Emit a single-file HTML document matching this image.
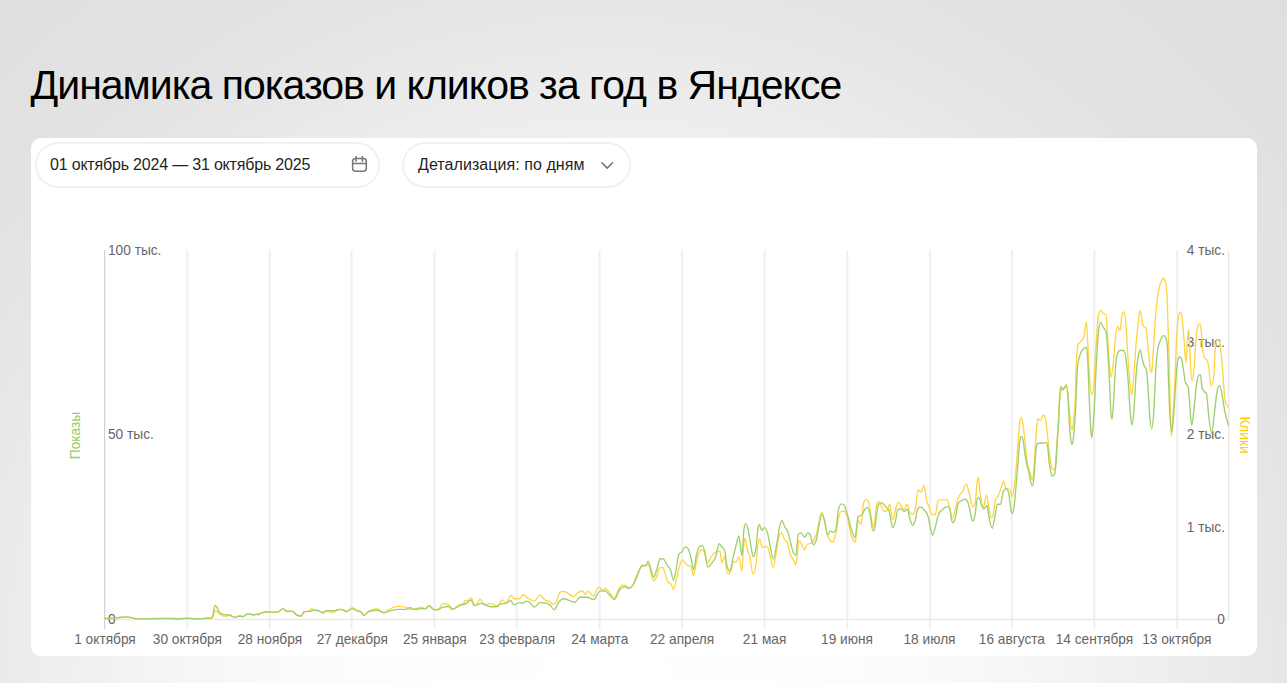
<!DOCTYPE html>
<html lang="ru">
<head>
<meta charset="utf-8">
<title>Динамика показов и кликов за год в Яндексе</title>
<style>
*{box-sizing:border-box;margin:0;padding:0}
html,body{width:1287px;height:683px;overflow:hidden}
body{font-family:"Liberation Sans",Arial,sans-serif;background:#e2e2e2;position:relative;
background:radial-gradient(circle 1000px at 605px 683px,#ffffff 0%,#fdfdfd 22%,#fcfcfc 27.5%,#f7f7f7 40.5%,#f1f1f1 50.5%,#ebebeb 60.5%,#e6e6e6 68.2%,#e3e3e3 74%,#e0e0e0 88.4%,#dedede 100%);}
h1{position:absolute;left:30.5px;top:61px;font-weight:400;font-size:41px;line-height:48px;letter-spacing:-1.0px;color:#000;white-space:nowrap}
.card{position:absolute;left:31px;top:138px;width:1226px;height:518px;background:#fff;border-radius:10px}
.pill{position:absolute;top:4px;height:46px;border:2px solid #f1f1f1;border-radius:23px;background:#fff;font-size:16px;color:#1f1f24;line-height:41px;white-space:nowrap;letter-spacing:-0.19px}
.pill.date{left:4px;width:345px;padding-left:13px}
.pill.det{left:371px;width:229px;padding-left:14px;letter-spacing:0.06px}
svg.chart{position:absolute;left:0;top:0}
svg.chart text{font-family:"Liberation Sans",Arial,sans-serif;font-size:13.7px;fill:#666}
</style>
</head>
<body>
<h1>Динамика показов и кликов за год в Яндексе</h1>
<div class="card">
  <div class="pill date">01 октябрь 2024 — 31 октябрь 2025
  </div>
  <div class="pill det">Детализация: по дням
  </div>
</div>
<svg class="chart" width="1287" height="683" viewBox="0 0 1287 683">
<path d="M187.4 250V629.5M269.7 250V629.5M351.6 250V629.5M434.5 250V629.5M516.7 250V629.5M599.6 250V629.5M682.2 250V629.5M764.5 250V629.5M847.4 250V629.5M930.1 250V629.5M1011.8 250V629.5M1094.4 250V629.5M1177.2 250V629.5" stroke="#efefef" stroke-width="1.9" fill="none"/>
<path d="M1228.7 250V620.3" stroke="#e7e7e7" stroke-width="1.3" fill="none"/>
<path d="M104 619.6H1229.3" stroke="#e9e9e9" stroke-width="1.5" fill="none"/>
<path d="M104.65 250V629.5" stroke="#d4d4d4" stroke-width="1.3" fill="none"/>
<g fill="none" stroke="#767676" stroke-width="1.5" stroke-linecap="round" stroke-linejoin="round"><rect x="352.6" y="158.6" width="13.7" height="12.6" rx="3"/><path d="M352.6 163.4h13.7M356.1 156.6v4.6M362.4 156.6v4.6"/><path d="M601.9 162.8L607.2 168.1L612.5 162.8" stroke-width="1.6"/></g>
<text transform="translate(108 254.8) scale(1 1.06)">100 тыс.</text>
<text transform="translate(108 439.3) scale(1 1.06)">50 тыс.</text>
<text transform="translate(108 623.8) scale(1 1.06)">0</text>
<text transform="translate(1225 254.8) scale(1 1.06)" text-anchor="end">4 тыс.</text>
<text transform="translate(1225 347.0) scale(1 1.06)" text-anchor="end">3 тыс.</text>
<text transform="translate(1225 439.3) scale(1 1.06)" text-anchor="end">2 тыс.</text>
<text transform="translate(1225 531.6) scale(1 1.06)" text-anchor="end">1 тыс.</text>
<text transform="translate(1225 623.8) scale(1 1.06)" text-anchor="end">0</text>
<text transform="translate(105.0 644) scale(1 1.06)" text-anchor="middle">1 октября</text>
<text transform="translate(187.4 644) scale(1 1.06)" text-anchor="middle">30 октября</text>
<text transform="translate(269.9 644) scale(1 1.06)" text-anchor="middle">28 ноября</text>
<text transform="translate(352.3 644) scale(1 1.06)" text-anchor="middle">27 декабря</text>
<text transform="translate(434.8 644) scale(1 1.06)" text-anchor="middle">25 января</text>
<text transform="translate(517.2 644) scale(1 1.06)" text-anchor="middle">23 февраля</text>
<text transform="translate(599.7 644) scale(1 1.06)" text-anchor="middle">24 марта</text>
<text transform="translate(682.1 644) scale(1 1.06)" text-anchor="middle">22 апреля</text>
<text transform="translate(764.6 644) scale(1 1.06)" text-anchor="middle">21 мая</text>
<text transform="translate(847.0 644) scale(1 1.06)" text-anchor="middle">19 июня</text>
<text transform="translate(929.5 644) scale(1 1.06)" text-anchor="middle">18 июля</text>
<text transform="translate(1011.9 644) scale(1 1.06)" text-anchor="middle">16 августа</text>
<text transform="translate(1094.4 644) scale(1 1.06)" text-anchor="middle">14 сентября</text>
<text transform="translate(1176.8 644) scale(1 1.06)" text-anchor="middle">13 октября</text>
<text transform="translate(79.6 435.5) rotate(-90) scale(1 1.06)" text-anchor="middle" style="fill:#97cc64">Показы</text>
<text transform="translate(1240.2 435) rotate(90) scale(1 1.06)" text-anchor="middle" style="fill:#ffcc00">Клики</text>
<path d="M104.4 618.6C107.1 618.6 109.7 618.6 112.4 618.5C115.3 618.4 118.2 617.7 121.1 617.5C123.0 617.4 124.8 617.3 126.7 617.3C128.6 617.3 130.4 617.6 132.3 617.9C133.6 618.1 134.8 618.8 136.1 618.8C140.7 618.9 145.2 618.9 149.8 618.9C156.0 618.9 162.2 618.6 168.4 618.6C172.1 618.6 175.9 618.9 179.6 618.9C182.1 618.9 184.5 618.5 187.0 618.5C189.5 618.5 192.0 618.9 194.5 618.9C197.4 618.9 200.3 618.9 203.2 618.9C204.5 618.9 205.7 618.3 207.0 618.3C208.2 618.3 209.5 618.6 210.7 618.6C211.5 618.6 212.2 618.1 213.0 617.0C213.4 616.4 213.9 613.6 214.3 612.5C214.8 611.3 215.2 610.5 215.7 610.5C216.3 610.5 216.9 611.5 217.5 612.0C218.1 612.6 218.8 613.4 219.4 613.9C220.3 614.6 221.1 615.1 222.0 615.5C222.8 615.9 223.6 616.3 224.4 616.3C225.3 616.3 226.1 616.0 227.0 615.8C228.0 615.6 229.0 615.3 230.0 615.3C230.6 615.3 231.2 616.0 231.8 616.3C232.9 616.8 233.9 617.5 235.0 617.5C236.0 617.5 237.1 616.4 238.1 616.0C238.7 615.7 239.4 615.3 240.0 615.3C241.0 615.3 242.0 616.9 243.0 616.9C244.0 616.9 245.1 615.1 246.1 614.6C247.2 614.0 248.2 613.6 249.3 613.6C250.5 613.6 251.8 615.0 253.0 615.0C254.2 615.0 255.5 614.1 256.7 614.1C257.1 614.1 257.6 615.2 258.0 615.2C258.7 615.2 259.3 614.0 260.0 613.6C261.0 613.0 262.0 612.7 263.0 612.4C264.1 612.0 265.1 611.5 266.2 611.5C267.8 611.5 269.4 612.4 271.0 612.4C273.1 612.4 275.3 612.2 277.4 611.9C279.3 611.6 281.1 608.9 283.0 608.9C284.2 608.9 285.5 611.5 286.7 611.5C288.6 611.5 290.4 611.2 292.3 611.2C294.0 611.2 295.6 614.4 297.3 615.2C298.5 615.8 299.8 616.1 301.0 616.1C302.0 616.1 303.1 612.3 304.1 611.9C306.0 611.1 307.8 611.5 309.7 610.7C310.3 610.4 311.0 608.4 311.6 608.4C312.4 608.4 313.2 610.2 314.0 610.3C315.5 610.4 316.9 610.4 318.4 610.5C319.9 610.6 321.3 613.4 322.8 613.4C324.2 613.4 325.7 610.7 327.1 610.7C328.8 610.7 330.4 612.6 332.1 612.6C333.4 612.6 334.7 611.1 336.0 610.5C337.6 609.8 339.2 609.1 340.8 609.1C342.7 609.1 344.5 612.1 346.4 612.1C348.3 612.1 350.1 607.6 352.0 607.6C353.0 607.6 354.0 609.0 355.0 609.5C356.1 610.1 357.1 610.5 358.2 610.8C359.0 611.1 359.9 611.0 360.7 611.4C361.7 611.9 362.8 615.2 363.8 615.2C365.5 615.2 367.1 612.2 368.8 611.3C369.9 610.7 370.9 610.4 372.0 610.0C373.6 609.4 375.3 608.6 376.9 608.6C377.9 608.6 379.0 609.9 380.0 610.5C381.5 611.4 382.9 613.0 384.4 613.0C385.6 613.0 386.8 611.3 388.0 610.5C389.3 609.6 390.5 608.6 391.8 608.0C393.9 607.0 395.9 606.4 398.0 606.4C400.5 606.4 403.0 606.6 405.5 607.1C407.2 607.4 408.8 609.6 410.5 609.6C412.0 609.6 413.5 609.5 415.0 609.2C417.1 608.8 419.1 607.1 421.2 607.1C422.6 607.1 424.1 608.6 425.5 608.6C426.6 608.6 427.6 605.5 428.7 605.5C430.8 605.5 432.8 609.6 434.9 609.6C436.1 609.6 437.4 609.4 438.6 608.9C440.1 608.3 441.5 603.4 443.0 603.4C444.9 603.4 446.7 603.9 448.6 604.9C449.6 605.5 450.7 609.9 451.7 609.9C453.1 609.9 454.6 608.0 456.0 607.1C457.3 606.3 458.5 605.2 459.8 604.6C461.0 604.0 462.3 604.3 463.5 603.6C464.1 603.3 464.7 600.5 465.3 600.5C466.4 600.5 467.4 600.5 468.5 600.5C469.4 600.5 470.3 597.8 471.2 597.8C472.4 597.8 473.5 605.5 474.7 605.5C475.7 605.5 476.8 604.5 477.8 603.0C478.5 602.0 479.2 598.9 479.9 598.9C480.9 598.9 481.8 602.0 482.8 603.0C483.8 604.1 484.9 604.9 485.9 604.9C486.7 604.9 487.6 603.6 488.4 603.6C490.5 603.6 492.5 604.0 494.6 604.9C495.6 605.3 496.7 606.7 497.7 606.7C499.1 606.7 500.6 599.9 502.0 599.9C503.3 599.9 504.5 603.0 505.8 603.0C507.5 603.0 509.3 595.5 511.0 595.5C512.2 595.5 513.3 598.7 514.5 598.7C516.2 598.7 517.8 598.7 519.5 598.7C520.7 598.7 522.0 594.7 523.2 594.7C524.9 594.7 526.5 597.4 528.2 598.4C530.3 599.6 532.3 601.1 534.4 601.1C536.3 601.1 538.1 594.9 540.0 594.9C541.9 594.9 543.7 599.9 545.6 600.5C546.8 600.9 548.1 600.7 549.3 601.1C550.5 601.5 551.8 604.3 553.0 604.3C554.0 604.3 555.1 603.7 556.1 602.4C557.4 600.8 558.6 593.2 559.9 592.4C560.9 591.7 562.0 591.4 563.0 591.4C564.0 591.4 565.0 591.8 566.0 592.2C567.3 592.8 568.7 593.9 570.0 594.7C571.2 595.4 572.5 596.6 573.7 596.6C574.9 596.6 576.2 593.8 577.4 592.9C579.1 591.7 580.7 591.0 582.4 591.0C583.4 591.0 584.5 594.1 585.5 594.1C586.3 594.1 587.2 591.2 588.0 591.2C589.9 591.2 591.7 596.0 593.6 596.0C595.1 596.0 596.5 587.3 598.0 587.3C598.8 587.3 599.6 587.5 600.4 587.9C601.0 588.2 601.7 590.4 602.3 590.4C603.3 590.4 604.4 588.5 605.4 588.5C606.9 588.5 608.3 591.3 609.8 592.9C611.2 594.5 612.7 598.2 614.1 598.2C616.0 598.2 617.8 589.6 619.7 587.3C620.7 586.0 621.8 584.8 622.8 584.8C623.8 584.8 624.9 585.3 625.9 585.8C627.0 586.3 628.0 587.9 629.1 587.9C630.3 587.9 631.6 587.1 632.8 585.4C634.0 583.7 635.3 578.9 636.5 576.1C638.2 572.4 639.8 567.8 641.5 566.7C642.7 565.9 644.0 565.8 645.2 565.5C646.2 565.2 647.3 564.9 648.3 564.9C649.1 564.9 650.0 569.8 650.8 572.3C651.7 575.1 652.7 580.8 653.6 580.8C654.5 580.8 655.5 579.2 656.4 577.3C657.4 575.2 658.5 568.4 659.5 568.0C660.5 567.6 661.6 567.4 662.6 567.4C663.4 567.4 664.3 571.4 665.1 573.6C666.1 576.3 667.2 581.3 668.2 582.3C669.0 583.1 669.9 582.7 670.7 583.5C671.6 584.4 672.6 589.1 673.5 589.1C674.4 589.1 675.4 583.3 676.3 579.8C677.3 575.9 678.4 570.1 679.4 566.7C680.3 563.6 681.3 559.9 682.2 559.9C682.9 559.9 683.7 561.1 684.4 561.8C685.4 562.8 686.5 565.1 687.5 565.5C688.5 565.9 689.6 565.7 690.6 566.1C691.6 566.5 692.5 575.4 693.5 575.4C694.2 575.4 694.9 569.1 695.6 566.1C696.6 561.7 697.7 556.5 698.7 553.7C699.7 550.9 700.8 549.3 701.8 549.3C702.6 549.3 703.5 550.6 704.3 552.4C705.3 554.7 706.4 563.0 707.4 563.0C708.4 563.0 709.5 559.5 710.5 558.0C711.8 556.1 713.0 554.2 714.3 553.1C715.7 551.8 717.2 551.2 718.6 551.2C719.1 551.2 719.5 551.3 720.0 551.6C720.6 552.0 721.3 563.2 721.9 563.2C722.7 563.2 723.6 556.6 724.4 556.6C725.2 556.6 726.0 568.3 726.8 570.9C727.4 573.0 728.1 574.0 728.7 574.0C729.5 574.0 730.4 571.7 731.2 569.6C732.0 567.5 732.9 561.5 733.7 561.5C734.5 561.5 735.4 562.2 736.2 562.2C737.1 562.2 738.0 556.6 738.9 556.6C739.9 556.6 740.8 571.1 741.8 571.1C742.4 571.1 743.0 553.0 743.6 547.2C744.0 543.0 744.5 537.9 744.9 537.9C745.7 537.9 746.6 546.5 747.4 549.7C748.2 552.9 749.1 553.8 749.9 557.2C750.9 561.4 752.0 574.0 753.0 574.0C754.0 574.0 755.1 570.5 756.1 563.4C756.7 559.3 757.3 548.9 757.9 544.8C758.5 540.9 759.0 538.8 759.6 538.8C760.5 538.8 761.4 547.2 762.3 547.2C764.0 547.2 765.6 546.6 767.3 546.6C768.1 546.6 769.0 551.8 769.8 554.7C770.9 558.6 772.1 567.4 773.2 567.4C774.1 567.4 775.1 559.6 776.0 554.7C777.0 549.3 778.1 538.6 779.1 536.0C779.9 533.9 780.8 532.9 781.6 532.9C782.6 532.9 783.7 538.2 784.7 539.8C785.5 541.1 786.4 540.6 787.2 542.3C788.2 544.4 789.3 551.8 790.3 554.7C791.3 557.6 792.4 557.8 793.4 559.7C794.2 561.2 795.1 564.7 795.9 564.7C796.9 564.7 798.0 540.4 799.0 540.4C799.8 540.4 800.7 542.7 801.5 544.1C802.5 545.8 803.6 549.7 804.6 549.7C805.4 549.7 806.3 545.1 807.1 544.5C808.5 543.4 810.0 544.0 811.4 542.9C813.1 541.7 814.7 540.0 816.4 534.2C817.4 530.6 818.5 524.1 819.5 519.9C820.2 516.9 821.0 511.8 821.7 511.8C822.5 511.8 823.4 516.5 824.2 519.9C825.2 523.9 826.2 531.4 827.2 534.8C828.2 538.0 829.1 538.7 830.1 540.0C831.0 541.2 832.0 542.3 832.9 542.3C833.8 542.3 834.8 537.5 835.7 533.6C836.7 529.3 837.8 520.5 838.8 516.8C839.6 513.8 840.5 511.5 841.3 511.4C842.3 511.3 843.4 511.2 844.4 511.2C845.2 511.2 846.1 513.8 846.9 516.1C848.5 520.6 850.2 533.0 851.8 537.3C852.9 540.3 854.1 542.3 855.2 542.3C856.2 542.3 857.1 520.5 858.1 520.5C859.1 520.5 860.2 524.2 861.2 524.2C862.0 524.2 862.9 504.7 863.7 502.5C864.5 500.4 865.3 499.4 866.1 499.4C866.9 499.4 867.8 500.2 868.6 501.8C869.4 503.4 870.3 512.3 871.1 516.8C871.8 520.6 872.5 527.1 873.2 527.1C873.8 527.1 874.4 522.3 875.0 518.5C875.6 514.5 876.3 504.8 876.9 503.5C877.5 502.3 878.1 501.7 878.7 501.7C879.5 501.7 880.4 504.6 881.2 506.0C882.2 507.8 883.3 511.2 884.3 511.2C885.3 511.2 886.4 510.9 887.4 510.4C888.1 510.0 888.9 503.8 889.6 503.8C890.1 503.8 890.7 509.7 891.2 512.2C891.8 515.0 892.4 519.7 893.0 519.7C893.8 519.7 894.7 512.6 895.5 509.8C896.5 506.5 897.4 502.0 898.4 502.0C899.3 502.0 900.2 504.8 901.1 506.0C902.1 507.4 903.2 509.8 904.2 509.8C905.2 509.8 906.1 503.8 907.1 503.8C908.0 503.8 908.9 512.2 909.8 512.9C910.8 513.7 911.9 514.1 912.9 514.1C913.7 514.1 914.6 512.2 915.4 508.5C916.2 504.8 917.1 489.9 917.9 489.9C918.9 489.9 920.0 492.1 921.0 492.1C922.0 492.1 922.9 485.5 923.9 485.5C924.8 485.5 925.7 496.1 926.6 499.8C927.6 504.1 928.7 505.8 929.7 508.5C930.5 510.7 931.4 514.7 932.2 514.7C933.2 514.7 934.3 514.7 935.3 514.7C936.3 514.7 937.2 500.7 938.2 500.4C939.5 500.0 940.9 499.9 942.2 499.8C943.8 499.7 945.5 499.6 947.1 499.6C947.9 499.6 948.8 505.0 949.6 507.9C950.5 511.2 951.5 518.5 952.4 518.5C953.3 518.5 954.3 513.0 955.2 509.8C956.2 506.2 957.3 500.9 958.3 497.9C959.8 493.7 961.2 493.7 962.7 491.1C963.9 488.9 965.2 483.9 966.4 483.9C967.4 483.9 968.5 491.0 969.5 494.8C970.5 498.6 971.6 506.6 972.6 506.6C973.4 506.6 974.3 505.6 975.1 503.5C975.7 501.9 976.4 488.2 977.0 483.6C977.4 480.7 977.8 477.4 978.2 477.4C978.8 477.4 979.5 488.1 980.1 492.3C981.2 499.9 982.4 507.9 983.5 507.9C984.1 507.9 984.8 500.1 985.4 497.9C985.8 496.4 986.3 495.1 986.7 495.1C987.4 495.1 988.1 504.9 988.8 508.5C989.6 512.8 990.5 517.8 991.3 517.8C991.9 517.8 992.6 516.8 993.2 514.7C993.9 512.3 994.7 501.8 995.4 499.8C996.3 497.3 997.2 497.9 998.1 496.1C999.1 494.0 1000.2 490.3 1001.2 487.4C1002.0 485.2 1002.7 480.9 1003.5 480.9C1004.4 480.9 1005.3 488.3 1006.2 488.6C1007.4 489.0 1008.7 488.8 1009.9 489.2C1010.7 489.4 1011.4 497.0 1012.2 497.0C1012.9 497.0 1013.6 491.0 1014.3 485.7C1015.0 480.6 1015.6 473.9 1016.3 466.2C1016.9 459.6 1017.4 451.1 1018.0 443.9C1018.6 436.3 1019.2 425.0 1019.8 421.7C1020.3 419.1 1020.7 417.8 1021.2 417.8C1021.7 417.8 1022.1 419.4 1022.6 421.7C1023.3 425.1 1024.0 432.4 1024.7 438.4C1025.4 444.4 1026.1 452.6 1026.8 457.8C1027.5 463.0 1028.2 466.7 1028.9 469.7C1029.6 472.6 1030.2 473.9 1030.9 475.9C1031.4 477.3 1031.8 480.1 1032.3 480.1C1032.8 480.1 1033.2 476.7 1033.7 471.8C1034.2 466.9 1034.6 458.1 1035.1 450.9C1035.6 443.7 1036.0 434.0 1036.5 428.6C1037.0 423.2 1037.4 418.6 1037.9 418.6C1038.7 418.6 1039.5 420.6 1040.3 420.6C1041.4 420.6 1042.4 415.0 1043.5 415.0C1044.2 415.0 1044.8 416.3 1045.5 418.9C1046.0 420.7 1046.4 426.0 1046.9 430.0C1047.6 435.9 1048.3 443.7 1049.0 449.5C1049.7 455.3 1050.4 461.5 1051.1 464.8C1051.8 468.1 1052.5 469.7 1053.2 469.7C1053.8 469.7 1054.4 469.2 1055.0 468.3C1055.5 467.6 1055.9 457.3 1056.4 450.9C1056.9 444.5 1057.3 437.3 1057.8 430.0C1058.4 421.1 1058.9 408.7 1059.5 402.0C1060.1 395.3 1060.6 391.0 1061.2 390.0C1062.0 388.7 1062.7 388.6 1063.5 388.0C1064.5 387.2 1065.5 386.2 1066.5 386.2C1067.1 386.2 1067.6 393.0 1068.2 398.0C1068.8 403.0 1069.3 411.1 1069.9 416.1C1070.6 422.6 1071.4 430.4 1072.1 430.4C1072.5 430.4 1073.0 425.6 1073.4 421.7C1073.9 416.9 1074.5 414.0 1075.0 403.0C1075.5 393.3 1075.9 372.4 1076.4 363.0C1077.0 350.3 1077.7 345.1 1078.3 343.9C1079.5 341.5 1080.8 342.6 1082.0 340.3C1082.7 338.9 1083.5 338.2 1084.2 335.1C1084.9 332.1 1085.7 322.0 1086.4 322.0C1086.9 322.0 1087.3 335.7 1087.8 343.9C1088.3 352.7 1088.8 365.5 1089.3 373.2C1090.1 386.1 1091.0 395.0 1091.8 395.0C1092.5 395.0 1093.1 391.3 1093.8 384.0C1094.5 376.3 1095.2 358.9 1095.9 348.3C1096.7 335.7 1097.6 320.3 1098.4 316.1C1099.1 312.4 1099.9 310.5 1100.6 310.5C1101.5 310.5 1102.3 312.8 1103.2 313.5C1104.2 314.2 1105.1 313.9 1106.1 314.6C1106.6 315.0 1107.1 329.3 1107.6 336.6C1108.3 347.3 1109.1 362.2 1109.8 368.8C1110.4 373.9 1110.9 376.9 1111.5 376.9C1112.1 376.9 1112.8 367.6 1113.4 361.5C1114.1 354.5 1114.9 342.6 1115.6 336.6C1116.2 331.4 1116.9 326.1 1117.5 326.1C1118.3 326.1 1119.2 330.7 1120.0 330.7C1120.6 330.7 1121.2 319.3 1121.8 316.5C1122.4 313.5 1123.1 312.0 1123.7 312.0C1124.3 312.0 1125.0 314.8 1125.6 320.5C1126.2 326.2 1126.9 341.3 1127.5 350.5C1128.4 363.6 1129.3 377.2 1130.2 385.0C1130.7 389.6 1131.3 395.1 1131.8 395.1C1132.3 395.1 1132.9 386.7 1133.4 381.0C1134.3 371.4 1135.2 354.6 1136.1 344.0C1136.9 334.6 1137.7 326.0 1138.5 320.0C1139.1 315.8 1139.6 310.3 1140.2 310.3C1140.7 310.3 1141.2 315.1 1141.7 317.7C1142.2 320.3 1142.7 325.2 1143.2 326.0C1144.2 327.5 1145.1 326.8 1146.1 328.3C1146.7 329.2 1147.2 338.7 1147.8 344.1C1148.6 351.8 1149.4 363.3 1150.2 368.0C1150.7 370.9 1151.2 372.9 1151.7 372.9C1152.2 372.9 1152.7 360.1 1153.2 353.0C1154.0 342.1 1154.7 326.7 1155.5 317.0C1156.5 304.8 1157.4 297.3 1158.4 291.4C1159.3 286.1 1160.1 284.1 1161.0 281.9C1161.8 279.8 1162.7 278.2 1163.5 278.2C1164.2 278.2 1165.0 279.7 1165.7 282.6C1166.2 284.5 1166.6 287.5 1167.1 297.3C1167.4 303.6 1167.7 317.5 1168.0 326.6C1168.3 335.7 1168.6 341.5 1168.9 352.0C1169.2 361.4 1169.4 375.0 1169.7 385.0C1170.3 406.3 1170.8 436.1 1171.4 436.1C1171.9 436.1 1172.3 425.5 1172.8 418.6C1173.4 409.3 1174.1 398.6 1174.7 385.0C1175.3 372.8 1175.8 353.5 1176.4 342.5C1177.0 330.3 1177.7 321.5 1178.3 317.8C1179.0 313.9 1179.6 311.9 1180.3 311.9C1180.9 311.9 1181.6 314.1 1182.2 318.5C1182.8 322.9 1183.5 333.6 1184.1 341.2C1184.7 348.4 1185.3 362.8 1185.9 362.8C1186.4 362.8 1186.8 347.0 1187.3 341.2C1187.7 336.3 1188.1 329.5 1188.5 329.5C1188.8 329.5 1189.2 335.3 1189.5 341.2C1189.9 347.7 1190.2 361.5 1190.6 368.0C1191.0 375.6 1191.5 380.5 1191.9 380.5C1192.5 380.5 1193.2 376.8 1193.8 371.0C1194.6 364.0 1195.3 346.0 1196.1 338.3C1196.7 331.9 1197.4 327.3 1198.0 325.8C1198.6 324.3 1199.2 323.6 1199.8 323.6C1200.3 323.6 1200.8 326.3 1201.3 331.0C1201.8 335.4 1202.2 346.1 1202.7 350.0C1203.3 355.3 1204.0 356.9 1204.6 358.0C1205.4 359.5 1206.3 358.7 1207.1 360.2C1207.7 361.3 1208.3 363.2 1208.9 368.0C1209.3 371.5 1209.8 379.8 1210.2 382.0C1210.7 384.4 1211.1 385.6 1211.6 385.6C1212.3 385.6 1213.1 382.4 1213.8 376.0C1214.3 371.9 1214.7 355.7 1215.2 350.0C1215.8 343.1 1216.3 339.7 1216.9 339.7C1217.5 339.7 1218.2 339.7 1218.8 339.7C1219.4 339.7 1220.1 345.1 1220.7 350.0C1221.3 354.7 1221.9 360.3 1222.5 368.0C1222.9 372.7 1223.2 379.3 1223.6 384.0C1224.2 392.1 1224.9 400.6 1225.5 402.5C1226.5 405.6 1227.5 406.3 1228.5 407.1" stroke="#ffd545" stroke-width="1.35" fill="none" stroke-linejoin="round" stroke-linecap="round"/>
<path d="M104.4 618.3C107.1 618.3 109.7 618.2 112.4 618.1C115.3 618.0 118.2 617.3 121.1 617.1C123.0 617.0 124.8 616.8 126.7 616.8C128.6 616.8 130.4 617.2 132.3 617.6C133.6 617.9 134.8 618.6 136.1 618.6C140.7 618.6 145.2 618.6 149.8 618.6C156.0 618.6 162.2 618.3 168.4 618.3C172.1 618.3 175.9 618.7 179.6 618.7C182.1 618.7 184.5 618.2 187.0 618.2C189.5 618.2 192.0 618.7 194.5 618.7C197.4 618.7 200.3 618.7 203.2 618.6C204.5 618.6 205.7 617.8 207.0 617.8C208.2 617.8 209.5 618.1 210.7 618.1C211.3 618.1 212.0 617.6 212.6 616.7C213.0 616.1 213.4 611.7 213.8 609.9C214.3 607.5 214.9 605.5 215.4 605.5C215.9 605.5 216.4 606.6 216.9 607.4C217.5 608.4 218.2 610.4 218.8 611.4C219.8 613.1 220.9 613.3 221.9 613.9C223.1 614.6 224.4 614.9 225.6 614.9C227.1 614.9 228.5 614.9 230.0 614.9C230.6 614.9 231.2 615.8 231.8 616.1C232.9 616.7 233.9 617.3 235.0 617.3C236.0 617.3 237.1 616.3 238.1 616.3C239.7 616.3 241.4 616.6 243.0 616.6C244.0 616.6 245.1 615.0 246.1 614.6C247.2 614.1 248.2 613.9 249.3 613.9C250.5 613.9 251.8 614.9 253.0 614.9C254.2 614.9 255.5 614.7 256.7 614.4C257.8 614.2 258.9 613.7 260.0 613.4C262.1 612.8 264.1 612.1 266.2 612.1C269.9 612.1 273.7 612.1 277.4 612.1C279.3 612.1 281.1 608.9 283.0 608.9C284.2 608.9 285.5 611.0 286.7 611.1C288.6 611.3 290.4 611.2 292.3 611.4C294.0 611.6 295.6 615.0 297.3 615.5C298.5 615.9 299.8 616.1 301.0 616.1C302.0 616.1 303.1 611.8 304.1 611.7C306.0 611.5 307.8 611.6 309.7 611.4C311.0 611.3 312.2 610.2 313.5 610.2C315.1 610.2 316.8 610.3 318.4 610.5C319.7 610.7 320.9 612.4 322.2 612.4C323.8 612.4 325.5 610.7 327.1 610.7C329.6 610.7 332.1 610.7 334.6 610.7C336.7 610.7 338.7 609.3 340.8 609.3C342.7 609.3 344.5 611.1 346.4 611.1C348.3 611.1 350.1 608.9 352.0 608.9C354.1 608.9 356.1 610.5 358.2 611.1C359.0 611.3 359.9 611.3 360.7 611.7C361.7 612.2 362.8 615.2 363.8 615.2C365.5 615.2 367.1 612.0 368.8 611.5C371.7 610.6 374.6 610.2 377.5 610.2C379.6 610.2 381.6 612.6 383.7 612.6C386.0 612.6 388.3 611.2 390.6 610.7C393.1 610.1 395.5 609.3 398.0 609.3C400.5 609.3 403.0 609.3 405.5 609.3C407.0 609.3 408.4 607.6 409.9 607.6C411.6 607.6 413.3 609.4 415.0 609.4C417.1 609.4 419.1 608.6 421.2 608.6C422.6 608.6 424.1 608.9 425.5 608.9C426.6 608.9 427.6 605.9 428.7 605.9C430.6 605.9 432.4 609.9 434.3 609.9C435.5 609.9 436.8 609.9 438.0 609.9C439.2 609.9 440.5 608.0 441.7 607.6C444.0 606.9 446.3 606.5 448.6 606.5C450.2 606.5 451.9 608.9 453.5 608.9C455.6 608.9 457.7 606.4 459.8 605.5C461.9 604.6 463.9 604.8 466.0 603.6C467.6 602.7 469.3 599.9 470.9 599.9C472.0 599.9 473.0 605.5 474.1 605.5C475.1 605.5 476.2 605.2 477.2 604.9C478.6 604.5 480.1 603.3 481.5 603.3C483.0 603.3 484.4 604.7 485.9 605.2C487.5 605.8 489.2 606.7 490.8 606.7C492.5 606.7 494.1 606.7 495.8 606.7C497.5 606.7 499.1 604.2 500.8 603.9C502.5 603.6 504.1 603.7 505.8 603.4C507.4 603.1 509.1 600.5 510.7 600.5C511.8 600.5 512.8 604.9 513.9 604.9C515.8 604.9 517.6 602.6 519.5 602.6C520.5 602.6 521.6 603.3 522.6 603.3C523.8 603.3 525.1 601.1 526.3 601.1C527.7 601.1 529.2 602.3 530.6 603.4C531.9 604.4 533.1 607.1 534.4 607.1C536.3 607.1 538.1 602.6 540.0 602.6C541.9 602.6 543.7 602.7 545.6 603.0C547.0 603.2 548.5 603.8 549.9 604.9C551.4 606.1 552.8 609.9 554.3 609.9C555.7 609.9 557.2 604.3 558.6 602.4C560.1 600.5 561.5 598.7 563.0 598.7C564.3 598.7 565.7 599.0 567.0 599.5C568.0 599.9 569.0 600.5 570.0 600.9C571.7 601.5 573.3 602.2 575.0 602.2C576.6 602.2 578.3 597.2 579.9 597.2C582.4 597.2 584.9 597.2 587.4 597.2C589.5 597.2 591.5 599.5 593.6 599.5C595.7 599.5 597.7 591.6 599.8 591.2C601.5 590.9 603.1 590.7 604.8 590.7C606.5 590.7 608.1 593.7 609.8 595.3C611.2 596.7 612.7 599.5 614.1 599.5C616.0 599.5 617.8 592.0 619.7 589.8C621.4 587.9 623.0 586.6 624.7 586.6C625.9 586.6 627.2 588.5 628.4 588.5C629.9 588.5 631.3 587.5 632.8 585.4C634.2 583.4 635.7 579.2 637.1 576.1C638.8 572.5 640.4 565.5 642.1 565.5C643.3 565.5 644.6 565.5 645.8 565.5C646.6 565.5 647.3 561.4 648.1 561.4C649.0 561.4 649.9 566.0 650.8 568.6C651.7 571.3 652.7 577.3 653.6 577.3C654.7 577.3 655.9 571.9 657.0 568.6C658.0 565.6 659.1 558.7 660.1 558.7C661.2 558.7 662.2 558.8 663.3 558.9C664.5 559.1 665.8 563.0 667.0 564.9C668.2 566.8 669.5 567.2 670.7 570.5C671.6 573.0 672.6 580.4 673.5 580.4C674.4 580.4 675.4 573.3 676.3 568.6C677.1 564.4 678.0 555.6 678.8 554.3C679.8 552.6 680.9 553.0 681.9 551.8C682.9 550.5 684.0 546.8 685.0 546.8C686.0 546.8 687.1 547.4 688.1 548.7C689.1 550.0 690.2 554.6 691.2 558.7C692.0 562.0 692.9 569.9 693.7 569.9C694.5 569.9 695.4 559.9 696.2 556.2C697.2 551.7 698.3 547.6 699.3 546.8C700.3 546.0 701.4 545.6 702.4 545.6C703.2 545.6 704.1 549.2 704.9 552.4C705.9 556.1 706.8 567.1 707.8 567.1C709.1 567.1 710.5 564.7 711.8 563.0C713.0 561.4 714.3 560.6 715.5 557.4C716.7 554.2 718.0 543.7 719.2 543.7C720.0 543.7 720.9 545.8 721.7 546.8C722.6 547.8 723.5 547.8 724.4 549.7C725.2 551.4 726.0 561.1 726.8 564.7C727.8 569.0 728.7 571.5 729.7 571.5C730.8 571.5 732.0 561.8 733.1 557.2C734.1 553.0 735.2 548.5 736.2 544.8C737.1 541.6 738.0 536.0 738.9 536.0C739.9 536.0 740.8 555.9 741.8 555.9C742.5 555.9 743.2 535.1 743.9 529.8C744.4 525.8 745.0 523.6 745.5 523.6C746.3 523.6 747.2 525.9 748.0 529.2C748.8 532.5 749.7 539.1 750.5 543.5C751.4 548.4 752.4 556.9 753.3 556.9C754.2 556.9 755.2 553.7 756.1 547.2C756.7 543.0 757.3 531.8 757.9 528.6C758.4 525.9 758.9 524.6 759.4 524.6C760.2 524.6 760.9 530.4 761.7 530.4C762.6 530.4 763.6 527.6 764.5 527.6C765.4 527.6 766.4 529.3 767.3 532.3C768.3 535.6 769.4 542.5 770.4 547.2C771.3 551.4 772.3 559.1 773.2 559.1C774.3 559.1 775.5 550.6 776.6 544.8C777.6 539.5 778.7 530.3 779.7 526.1C780.4 523.3 781.1 520.5 781.8 520.5C782.8 520.5 783.7 524.9 784.7 526.7C785.7 528.6 786.8 528.9 787.8 531.7C788.8 534.5 789.9 539.6 790.9 543.5C791.7 546.6 792.6 551.3 793.4 552.8C794.3 554.5 795.2 555.3 796.1 555.3C796.8 555.3 797.4 535.9 798.1 534.8C799.0 533.3 799.9 532.6 800.8 532.6C802.1 532.6 803.3 537.3 804.6 537.3C805.6 537.3 806.7 532.9 807.7 532.9C808.5 532.9 809.4 533.5 810.2 534.8C811.2 536.4 812.3 544.8 813.3 544.8C814.3 544.8 815.4 543.1 816.4 539.8C817.4 536.5 818.5 527.0 819.5 522.4C820.2 519.1 821.0 514.3 821.7 514.3C822.6 514.3 823.6 516.8 824.5 519.9C825.5 523.3 826.6 534.8 827.6 534.8C828.4 534.8 829.3 531.1 830.1 531.1C831.1 531.1 832.2 532.3 833.2 532.3C834.0 532.3 834.9 531.7 835.7 530.4C836.5 529.1 837.4 515.1 838.2 511.2C839.2 506.3 840.3 503.9 841.3 503.9C842.3 503.9 843.4 504.5 844.4 505.6C845.4 506.7 846.5 511.5 847.5 514.9C848.7 519.0 850.0 524.8 851.2 528.6C852.5 532.5 853.7 537.9 855.0 537.9C856.0 537.9 857.1 517.9 858.1 516.8C859.3 515.5 860.6 516.2 861.8 514.9C862.8 513.8 863.9 510.6 864.9 509.3C865.7 508.3 866.6 507.4 867.4 507.4C868.2 507.4 869.1 510.4 869.9 513.7C870.9 517.7 872.0 531.1 873.0 531.1C873.7 531.1 874.5 529.4 875.2 526.0C875.8 523.4 876.3 515.8 876.9 512.2C877.5 508.4 878.1 504.7 878.7 504.2C879.7 503.3 880.8 502.9 881.8 502.9C882.9 502.9 883.9 504.8 885.0 506.0C886.4 507.6 887.9 507.9 889.3 511.6C889.9 513.2 890.6 519.5 891.2 522.2C891.8 524.8 892.4 527.8 893.0 527.8C893.8 527.8 894.7 524.0 895.5 520.9C896.3 517.8 897.2 509.1 898.0 509.1C899.0 509.1 900.1 509.1 901.1 509.1C902.1 509.1 903.2 511.6 904.2 511.6C905.2 511.6 906.3 509.1 907.3 509.1C908.1 509.1 909.0 515.9 909.8 518.5C910.8 521.5 911.7 525.3 912.7 525.3C913.6 525.3 914.5 522.7 915.4 519.7C916.2 516.9 917.1 509.5 917.9 508.5C918.7 507.5 919.6 507.0 920.4 507.0C921.6 507.0 922.9 508.3 924.1 509.8C925.4 511.3 926.6 511.9 927.9 516.0C928.7 518.6 929.5 523.9 930.3 527.2C931.0 530.2 931.8 535.2 932.5 535.2C933.4 535.2 934.4 530.4 935.3 527.2C936.3 523.7 937.4 517.4 938.4 514.7C939.7 511.4 940.9 511.1 942.2 509.8C943.8 508.1 945.5 506.6 947.1 506.6C947.9 506.6 948.8 507.0 949.6 507.9C950.2 508.6 950.9 517.2 951.5 519.7C952.0 521.8 952.6 522.8 953.1 522.8C953.8 522.8 954.5 520.7 955.2 518.5C956.2 515.2 957.3 505.2 958.3 503.5C959.6 501.4 960.8 501.1 962.1 500.4C963.1 499.8 964.2 499.2 965.2 499.2C966.2 499.2 967.3 500.6 968.3 503.5C969.1 505.8 970.0 511.4 970.8 514.7C971.4 517.1 972.0 521.2 972.6 521.2C973.4 521.2 974.3 519.0 975.1 514.7C975.7 511.4 976.4 501.5 977.0 499.8C977.6 498.1 978.3 497.3 978.9 497.3C979.7 497.3 980.5 502.3 981.3 504.2C982.1 506.2 983.0 509.1 983.8 509.1C984.8 509.1 985.9 505.4 986.9 505.4C987.7 505.4 988.6 516.0 989.4 519.7C990.3 523.9 991.3 528.2 992.2 528.2C993.1 528.2 994.1 520.2 995.0 516.0C995.8 512.2 996.7 504.2 997.5 504.2C998.5 504.2 999.6 504.2 1000.6 504.2C1001.4 504.2 1002.3 494.3 1003.1 492.3C1004.1 489.8 1005.2 488.6 1006.2 488.6C1007.0 488.6 1007.9 490.1 1008.7 493.0C1009.3 495.2 1010.0 503.8 1010.6 507.3C1011.1 510.3 1011.7 513.5 1012.2 513.5C1012.9 513.5 1013.6 510.3 1014.3 505.0C1015.0 499.9 1015.6 490.6 1016.3 482.9C1017.0 474.9 1017.7 466.1 1018.4 457.8C1018.9 452.2 1019.3 444.5 1019.8 441.2C1020.3 437.9 1020.7 436.3 1021.2 436.3C1021.8 436.3 1022.4 437.5 1023.0 439.8C1023.6 442.0 1024.1 448.5 1024.7 452.3C1025.4 457.0 1026.1 461.6 1026.8 464.8C1027.5 468.1 1028.2 468.7 1028.9 471.8C1029.6 474.8 1030.2 480.5 1030.9 482.9C1031.4 484.6 1031.8 485.9 1032.3 485.9C1032.8 485.9 1033.2 484.0 1033.7 480.1C1034.2 476.2 1034.6 466.2 1035.1 460.6C1035.6 455.0 1036.0 449.0 1036.5 446.7C1037.0 444.4 1037.4 443.2 1037.9 443.2C1039.8 443.2 1041.6 443.2 1043.5 443.2C1044.4 443.2 1045.3 442.3 1046.2 442.3C1046.7 442.3 1047.1 443.8 1047.6 446.7C1048.1 449.6 1048.5 456.7 1049.0 460.6C1049.7 466.4 1050.4 470.6 1051.1 473.2C1051.6 474.9 1052.0 476.2 1052.5 476.2C1053.2 476.2 1053.9 475.4 1054.6 473.8C1055.1 472.7 1055.5 469.1 1056.0 463.4C1056.5 457.7 1056.9 447.2 1057.4 439.8C1057.9 432.4 1058.3 429.2 1058.8 418.9C1059.1 413.0 1059.3 403.2 1059.6 398.0C1060.0 390.9 1060.3 386.6 1060.7 386.6C1061.5 386.6 1062.2 390.0 1063.0 390.0C1064.1 390.0 1065.2 385.0 1066.3 385.0C1066.9 385.0 1067.6 390.6 1068.2 401.0C1068.5 406.5 1068.9 416.0 1069.2 421.7C1069.7 429.7 1070.1 434.6 1070.6 438.4C1071.1 442.2 1071.5 444.6 1072.0 444.6C1072.5 444.6 1072.9 442.2 1073.4 438.4C1073.9 434.6 1074.3 428.6 1074.8 421.7C1075.1 416.8 1075.5 412.1 1075.8 405.0C1076.1 399.3 1076.3 391.2 1076.6 385.0C1076.9 378.8 1077.1 370.8 1077.4 368.0C1078.2 359.7 1079.0 358.5 1079.8 355.6C1081.0 351.2 1082.2 350.4 1083.4 349.0C1084.4 347.8 1085.4 347.1 1086.4 347.1C1086.9 347.1 1087.3 353.2 1087.8 361.5C1088.3 370.4 1088.8 388.6 1089.3 400.0C1089.8 411.4 1090.3 423.5 1090.8 430.0C1091.1 433.9 1091.4 437.8 1091.7 437.8C1092.2 437.8 1092.6 431.5 1093.1 425.9C1093.6 419.9 1094.1 411.2 1094.6 402.0C1095.3 389.7 1095.9 370.4 1096.6 358.6C1097.3 345.6 1098.1 334.7 1098.8 329.3C1099.4 324.6 1100.1 322.3 1100.7 322.3C1101.5 322.3 1102.4 325.6 1103.2 327.1C1104.2 328.9 1105.1 328.8 1106.1 332.2C1106.7 334.4 1107.4 346.0 1108.0 355.6C1108.6 364.7 1109.2 374.7 1109.8 387.8C1110.1 394.4 1110.4 404.7 1110.7 409.3C1111.1 415.9 1111.6 419.2 1112.0 419.2C1112.5 419.2 1113.0 410.1 1113.5 403.0C1114.1 394.5 1114.7 378.4 1115.3 370.3C1116.0 360.9 1116.7 355.0 1117.4 353.4C1118.3 351.5 1119.1 350.5 1120.0 350.5C1121.2 350.5 1122.5 350.5 1123.7 350.5C1124.4 350.5 1125.2 353.7 1125.9 358.6C1126.6 363.5 1127.4 370.9 1128.1 380.0C1128.8 389.1 1129.6 405.0 1130.3 413.0C1130.8 418.5 1131.3 425.2 1131.8 425.2C1132.4 425.2 1133.1 419.7 1133.7 413.0C1134.5 404.5 1135.3 384.7 1136.1 375.0C1136.9 365.2 1137.7 358.6 1138.5 354.5C1139.1 351.6 1139.6 349.9 1140.2 349.9C1140.8 349.9 1141.4 355.5 1142.0 358.0C1142.6 360.6 1143.3 363.1 1143.9 365.0C1144.7 367.5 1145.6 366.8 1146.4 370.3C1146.8 372.0 1147.2 376.2 1147.6 381.0C1148.2 388.2 1148.8 403.5 1149.4 411.2C1150.1 420.6 1150.9 428.8 1151.6 428.8C1152.3 428.8 1153.1 421.8 1153.8 411.2C1154.5 401.1 1155.2 378.5 1155.9 368.0C1156.5 359.5 1157.0 354.2 1157.6 350.0C1158.2 345.3 1158.9 344.7 1159.5 342.7C1160.2 340.4 1161.0 338.7 1161.7 337.5C1162.5 336.3 1163.2 335.6 1164.0 335.6C1164.8 335.6 1165.5 336.7 1166.3 339.0C1166.7 340.3 1167.2 343.0 1167.6 351.0C1167.9 356.5 1168.2 371.1 1168.5 380.0C1169.0 393.8 1169.4 407.7 1169.9 415.6C1170.5 426.3 1171.2 431.7 1171.8 431.7C1172.4 431.7 1173.0 422.7 1173.6 415.6C1174.3 407.0 1175.1 391.6 1175.8 382.0C1176.5 373.3 1177.1 362.2 1177.8 360.0C1178.5 357.8 1179.1 356.7 1179.8 356.7C1180.4 356.7 1181.0 357.6 1181.6 359.5C1182.1 361.2 1182.7 364.9 1183.2 368.0C1183.9 372.1 1184.6 379.5 1185.3 382.0C1186.3 385.4 1187.2 383.7 1188.2 387.1C1188.7 388.9 1189.2 398.3 1189.7 403.9C1190.3 411.0 1191.0 425.4 1191.6 425.4C1192.3 425.4 1193.1 417.1 1193.8 411.2C1194.6 404.5 1195.5 392.5 1196.3 386.4C1197.0 381.0 1197.8 376.0 1198.5 375.4C1199.1 374.9 1199.8 374.6 1200.4 374.6C1201.0 374.6 1201.5 385.9 1202.1 387.8C1202.8 390.3 1203.6 390.5 1204.3 391.5C1205.0 392.5 1205.8 392.2 1206.5 393.7C1207.2 395.2 1208.0 409.5 1208.7 415.6C1209.7 423.6 1210.6 433.2 1211.6 433.2C1212.6 433.2 1213.6 418.6 1214.6 411.2C1215.6 404.0 1216.5 392.6 1217.5 389.3C1218.2 386.8 1219.0 385.6 1219.7 385.6C1220.4 385.6 1221.2 390.3 1221.9 393.7C1222.9 398.2 1223.8 406.3 1224.8 411.2C1226.0 417.5 1227.3 421.5 1228.5 425.5" stroke="#9fd06c" stroke-width="1.35" fill="none" stroke-linejoin="round" stroke-linecap="round"/>
</svg>
</body>
</html>
